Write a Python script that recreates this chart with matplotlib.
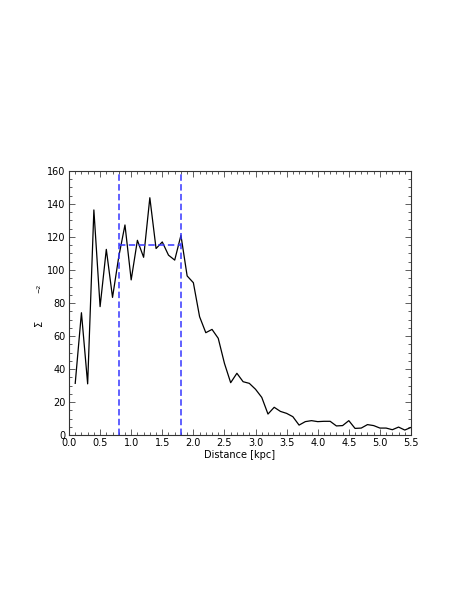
import matplotlib
matplotlib.use("Agg")
import matplotlib.pyplot as plt
from matplotlib.ticker import MultipleLocator, FormatStrFormatter

distance = [0.1, 0.2, 0.3, 0.4, 0.5, 0.6, 0.7, 0.8, 0.9, 1.0,
            1.1, 1.2, 1.3, 1.4, 1.5, 1.6, 1.7, 1.8, 1.9, 2.0,
            2.1, 2.2, 2.3, 2.4, 2.5, 2.6, 2.7, 2.8, 2.9, 3.0,
            3.1, 3.2, 3.3, 3.4, 3.5, 3.6, 3.7, 3.8, 3.9, 4.0,
            4.1, 4.2, 4.3, 4.4, 4.5, 4.6, 4.7, 4.8, 4.9, 5.0,
            5.1, 5.2, 5.3, 5.4, 5.5]
sigma = [31.3, 74.1, 31.0, 136.4, 77.8, 112.5, 83.4, 108.0, 127.3, 94.0,
         118.0, 107.7, 143.8, 113.0, 117.0, 109.0, 106.0, 121.0, 96.4, 92.3,
         71.7, 62.0, 64.0, 58.6, 43.4, 31.7, 37.4, 32.3, 31.3, 27.7,
         22.8, 12.7, 16.8, 14.3, 13.1, 11.1, 6.0, 8.1, 8.7, 8.1,
         8.3, 8.3, 5.5, 5.7, 8.7, 4.0, 4.2, 6.3, 5.7, 4.2,
         4.2, 3.2, 4.8, 3.0, 4.6]

region_bounds = [0.8, 1.8]
region_mean = 115.2

fs = 7
fig = plt.figure(figsize=(4.69, 6.07), dpi=100)
ax = fig.add_axes([69/469, 1-435/607, (411-69)/469, (435-171)/607])

ax.plot(distance, sigma, color="black", lw=0.9)
dash_kw = dict(color="#3535ff", lw=1.1, dashes=(4.2, 2.2))
for xb in region_bounds:
    ax.axvline(xb, **dash_kw)
ax.plot(region_bounds, [region_mean, region_mean], **dash_kw)

ax.set_xlim(0, 5.5)
ax.set_ylim(0, 160)
ax.xaxis.set_major_locator(MultipleLocator(0.5))
ax.xaxis.set_minor_locator(MultipleLocator(0.1))
ax.yaxis.set_major_locator(MultipleLocator(20))
ax.yaxis.set_minor_locator(MultipleLocator(5))
ax.tick_params(which="both", direction="in", top=True, right=True, labelsize=fs, pad=2.5,
               color="#444444")
ax.tick_params(which="major", length=4, width=0.6)
ax.tick_params(which="minor", length=2, width=0.6)
ax.xaxis.set_major_formatter(FormatStrFormatter("%.1f"))
ax.yaxis.set_major_formatter(FormatStrFormatter("%d"))
for s in ax.spines.values():
    s.set_linewidth(0.8)
    s.set_color("#333333")

ax.set_xlabel("Distance [kpc]", fontsize=fs, labelpad=1)
fig.text(39/469, 1-323/607, "Σ", rotation=90, fontsize=fs, ha="center", va="center")
fig.text(39/469, 1-288/607, "−2", rotation=90, fontsize=4.5, ha="center", va="center")

fig.savefig("out.png", dpi=100)
